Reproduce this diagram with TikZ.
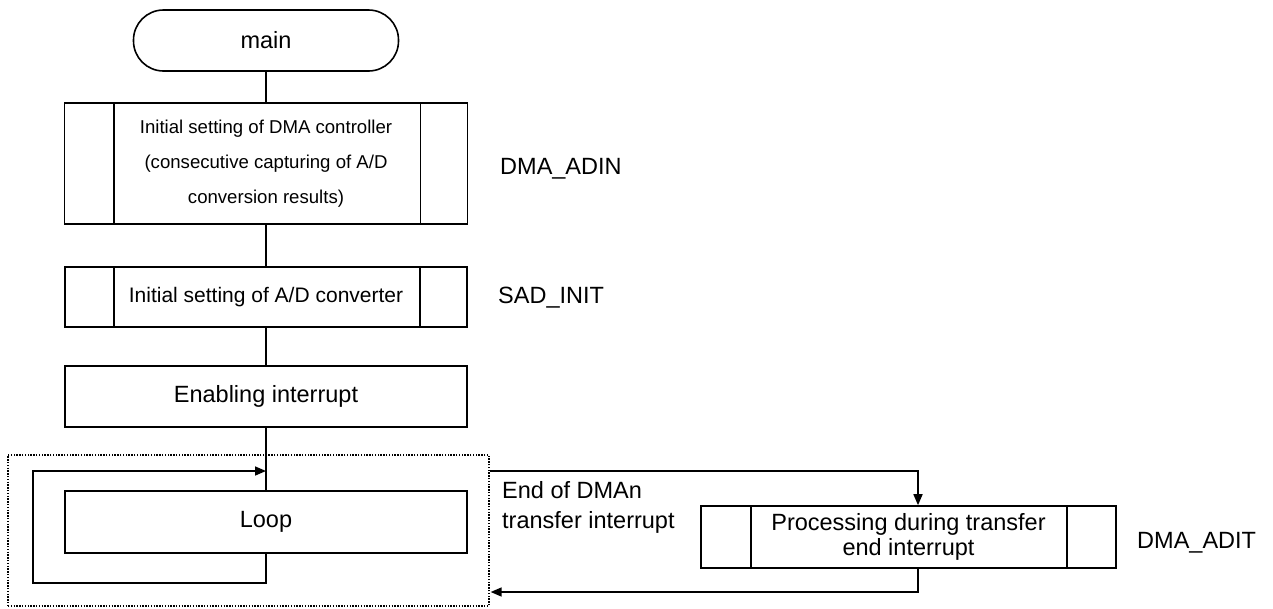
\documentclass[tikz,border=0pt]{standalone}
\usepackage{fontspec}
\setmainfont{Liberation Sans}
\usetikzlibrary{arrows.meta,calc}
\begin{document}
\begin{tikzpicture}[x=1pt,y=-1pt,
  ln/.style={line width=1.6pt},
  box/.style={draw,ln,rectangle,inner sep=0pt,align=center,font=\fontsize{23.5}{30}\selectfont},
  term/.style={box,rounded corners=30pt},
  lab/.style={anchor=west,inner sep=0pt,font=\fontsize{23.5}{30}\selectfont,align=left},
  arr/.style={ln,-{Triangle[length=11pt,width=9pt]}},
  frm/.style={draw,line width=1.3pt,dash pattern=on 1.4pt off 1.4pt,inner sep=0pt}
]
\useasboundingbox (0,0) rectangle (1273,608);
% main nodes
\node[term,minimum width=265pt,minimum height=61pt] (main) at (266,40.5) {main};
\node[box,minimum width=403pt,minimum height=121pt,font=\fontsize{18.6}{35}\selectfont] (dma) at (266,163.5)
  {Initial setting of DMA controller\\(consecutive capturing of A/D\\conversion results)};
\node[box,minimum width=402pt,minimum height=60pt,font=\fontsize{21}{26}\selectfont] (sad) at (266,297)
  {Initial setting of A/D converter};
\node[box,minimum width=402pt,minimum height=61pt] (enab) at (266,396.5) {Enabling interrupt};
\node[frm,minimum width=481pt,minimum height=151pt] (frame) at (248.5,530.5) {};
\node[box,minimum width=402pt,minimum height=62pt] (loop) at (266,522) {Loop};
\node[box,minimum width=415pt,minimum height=62pt,font=\fontsize{23.5}{25}\selectfont] (proc) at (908.5,537)
  {Processing during transfer\\end interrupt};
% subroutine side bars
\foreach \n in {dma,sad}{
  \draw[ln] ([xshift=50pt]\n.north west) -- ([xshift=50pt]\n.south west);
  \draw[ln] ([xshift=-48pt]\n.north east) -- ([xshift=-48pt]\n.south east);
}
\draw[ln] ([xshift=51pt]proc.north west) -- ([xshift=51pt]proc.south west);
\draw[ln] ([xshift=-50pt]proc.north east) -- ([xshift=-50pt]proc.south east);
% labels
\node[lab] (adin) at (500,169) {DMA\_ADIN};
\node[lab] (sadinit) at (498,298) {SAD\_INIT};
\node[lab] (adit) at (1137,543) {DMA\_ADIT};
\node[lab,font=\fontsize{23.5}{30}\selectfont] (endlbl) at (502,507) {End of DMAn\\transfer interrupt};
% coordinates
\coordinate (loopin) at (266,471);
\coordinate (loopbl) at (33,583);
\coordinate (retrow) at (0,592);
% connectors
\draw[ln] (main) -- (dma);
\draw[ln] (dma) -- (sad);
\draw[ln] (sad) -- (enab);
\draw[ln] (enab) -- (loop);
\draw[arr] (loop.south) |- (loopbl) |- (loopin);
\draw[arr] (frame.east |- loopin) -| ([xshift=9.5pt]proc.north);
\draw[arr] ([xshift=9.5pt]proc.south) |- ([xshift=1pt]frame.east |- retrow);
\end{tikzpicture}
\end{document}
